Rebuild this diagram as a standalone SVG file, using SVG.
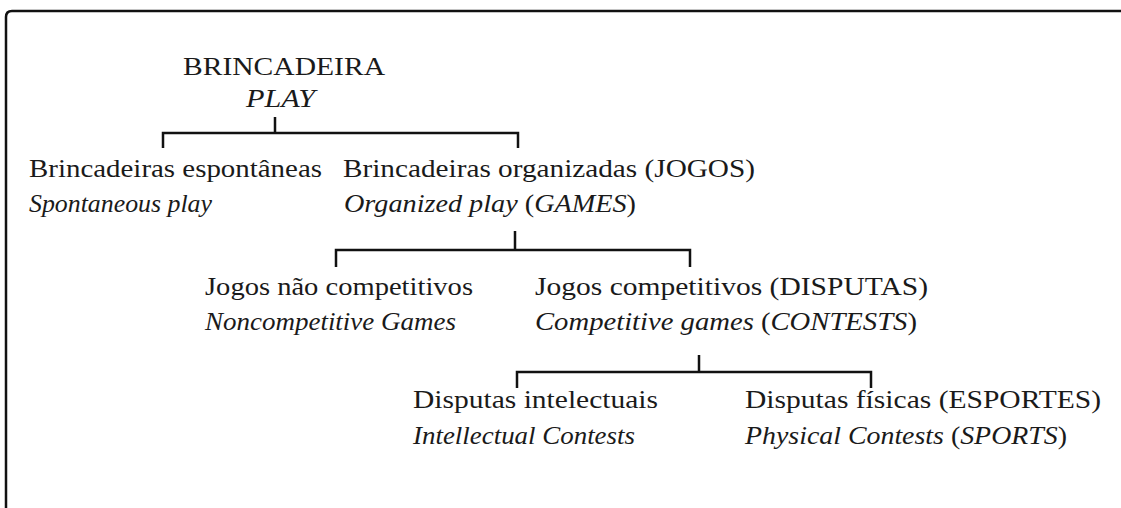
<svg xmlns="http://www.w3.org/2000/svg" width="1121" height="508" viewBox="0 0 1121 508">
<style>
text{font-family:"Liberation Serif","Times New Roman",serif;font-size:25px;fill:#1a1a1a}
.it{font-style:italic}
.up{font-style:normal}
.title{font-size:26px}
.ln{fill:none;stroke:#111;stroke-width:2.5;stroke-linecap:butt;stroke-linejoin:miter}
</style>
<rect width="1121" height="508" fill="#ffffff"/>
<path class="ln" d="M6 510 V17 Q6 11 12 11 H1125"/>
<g id="connectors">
<path class="ln" d="M275 117 V133 M163 148 V133 H518 V148"/>
<path class="ln" d="M515 231 V250 M336 267 V250 H690 V267"/>
<path class="ln" d="M699 355 V372 M517 388 V372 H871 V388"/>
</g>
<g id="n-play">
<text class="title" x="183" y="75" textLength="202" lengthAdjust="spacingAndGlyphs">BRINCADEIRA</text>
<text class="it" x="246" y="107" textLength="69" lengthAdjust="spacingAndGlyphs">PLAY</text>
</g>
<g id="n-spontaneous">
<text x="29" y="177" textLength="293" lengthAdjust="spacingAndGlyphs">Brincadeiras espontâneas</text>
<text class="it" x="29" y="212" textLength="183" lengthAdjust="spacingAndGlyphs">Spontaneous play</text>
</g>
<g id="n-organized">
<text x="343" y="177" textLength="412" lengthAdjust="spacingAndGlyphs">Brincadeiras organizadas (JOGOS)</text>
<text class="it" x="344" y="212" textLength="292" lengthAdjust="spacingAndGlyphs">Organized play <tspan class="up">(</tspan>GAMES<tspan class="up">)</tspan></text>
</g>
<g id="n-noncompetitive">
<text x="205" y="295" textLength="268" lengthAdjust="spacingAndGlyphs">Jogos não competitivos</text>
<text class="it" x="205" y="330" textLength="251" lengthAdjust="spacingAndGlyphs">Noncompetitive Games</text>
</g>
<g id="n-competitive">
<text x="535" y="295" textLength="393" lengthAdjust="spacingAndGlyphs">Jogos competitivos (DISPUTAS)</text>
<text class="it" x="535" y="330" textLength="382" lengthAdjust="spacingAndGlyphs">Competitive games <tspan class="up">(</tspan>CONTESTS<tspan class="up">)</tspan></text>
</g>
<g id="n-intellectual">
<text x="413" y="408" textLength="245" lengthAdjust="spacingAndGlyphs">Disputas intelectuais</text>
<text class="it" x="413" y="444" textLength="222" lengthAdjust="spacingAndGlyphs">Intellectual Contests</text>
</g>
<g id="n-physical">
<text x="745" y="408" textLength="356" lengthAdjust="spacingAndGlyphs">Disputas físicas (ESPORTES)</text>
<text class="it" x="745" y="444" textLength="322" lengthAdjust="spacingAndGlyphs">Physical Contests <tspan class="up">(</tspan>SPORTS<tspan class="up">)</tspan></text>
</g>
</svg>
